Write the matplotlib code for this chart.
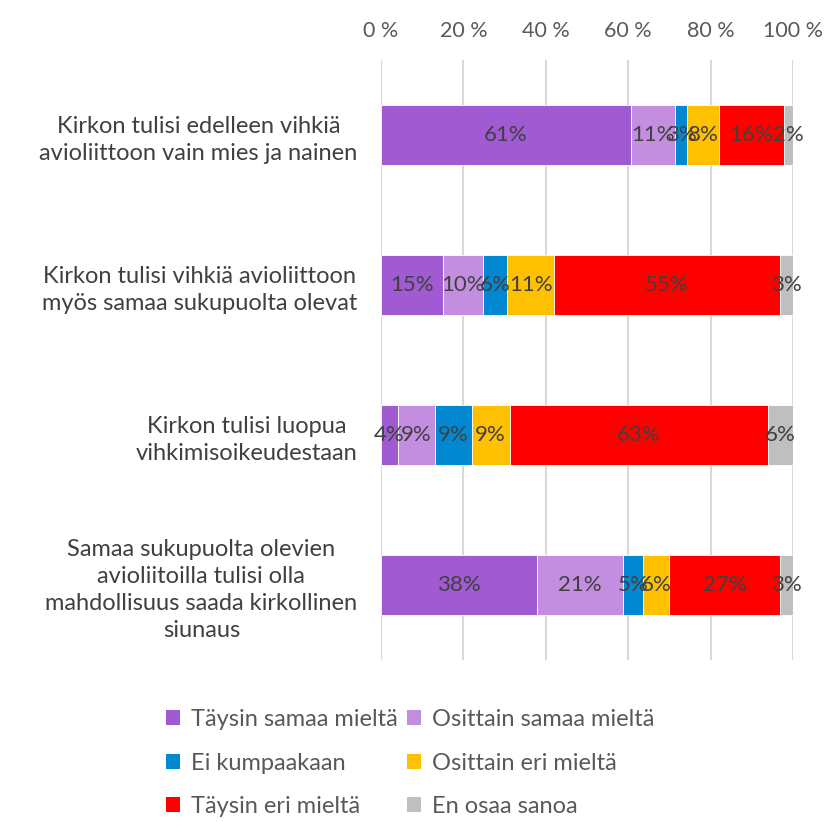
import numpy as np
import matplotlib.pyplot as plt
from matplotlib.patches import Patch

plt.rcParams['font.family'] = ['Lato', 'DejaVu Sans']

categories = [
    'Kirkon tulisi edelleen vihkiä\navioliittoon vain mies ja nainen',
    'Kirkon tulisi vihkiä avioliittoon\nmyös samaa sukupuolta olevat',
    'Kirkon tulisi luopua\nvihkimisoikeudestaan',
    'Samaa sukupuolta olevien\navioliitoilla tulisi olla\nmahdollisuus saada kirkollinen\nsiunaus',
]
series = ['Täysin samaa mieltä', 'Osittain samaa mieltä', 'Ei kumpaakaan',
          'Osittain eri mieltä', 'Täysin eri mieltä', 'En osaa sanoa']

# percent per category, series order as above
taysin_samaa = [60.6, 15.0, 4.1, 37.9]
osittain_samaa = [10.8, 9.8, 9.0, 20.8]
ei_kumpaakaan = [2.8, 5.9, 8.9, 5.0]
osittain_eri = [7.9, 11.2, 9.2, 6.3]
taysin_eri = [15.6, 54.9, 62.7, 26.8]
en_osaa = [2.3, 3.2, 6.1, 3.2]

values = [taysin_samaa, osittain_samaa, ei_kumpaakaan, osittain_eri, taysin_eri, en_osaa]
colors = ['#A05AD2', '#C38EE0', '#0288D1', '#FFC000', '#FF0000', '#BFBFBF']

fig = plt.figure(figsize=(8.29, 8.22), dpi=100)
ax = fig.add_axes([381 / 829, 162 / 822, 412 / 829, 600 / 822])

y = np.arange(len(categories))
left = np.zeros(len(categories))
handles = []
for name, vals, col in zip(series, values, colors):
    vals = np.array(vals)
    ax.barh(y, vals, left=left, height=0.4, color=col, edgecolor='white',
            linewidth=0.6, zorder=3)
    for yi, l, v in zip(y, left, vals):
        ax.text(l + v / 2, yi, f'{round(v)}%', ha='center', va='center',
                fontsize=16, color='#404040', zorder=4)
    left += vals
    handles.append(Patch(facecolor=col, edgecolor='none'))

ax.set_xlim(0, 100)
ax.set_ylim(3.5, -0.5)
ax.set_xticks(range(0, 101, 20))
ax.set_xticklabels([f'{t} %' for t in range(0, 101, 20)])
ax.xaxis.tick_top()
ax.tick_params(axis='x', length=0, labelsize=15.5, labelcolor='#595959', pad=14)
ax.set_yticks(y)
ax.set_yticklabels(categories, fontsize=17, color='#404040',
                   multialignment='center', linespacing=1.35)
ax.tick_params(axis='y', length=0, pad=17)
ax.grid(axis='x', color='#D9D9D9', linewidth=1.5, zorder=0)
for s in ax.spines.values():
    s.set_visible(False)

order = [0, 2, 4, 1, 3, 5]
fig.legend([handles[i] for i in order], [series[i] for i in order],
           ncol=2, loc='upper left', bbox_to_anchor=(145 / 829, 1 - 688 / 822),
           frameon=False, fontsize=17, labelcolor='#595959',
           handlelength=0.6, handleheight=0.6, handletextpad=0.45,
           columnspacing=0.4, labelspacing=0.95)

fig.savefig('out.png', dpi=100)
